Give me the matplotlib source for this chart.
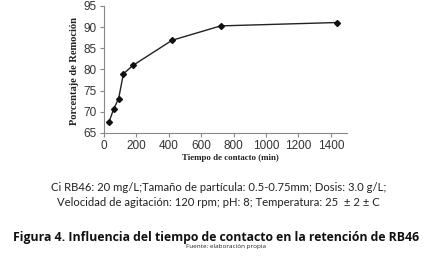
import matplotlib
matplotlib.use("Agg")
import matplotlib.pyplot as plt

tiempo = [30, 60, 90, 120, 180, 420, 720, 1440]
remocion = [67.5, 70.7, 73.1, 79.0, 81.0, 86.9, 90.3, 91.1]
xticks = [0, 200, 400, 600, 800, 1000, 1200, 1400]
yticks = [65, 70, 75, 80, 85, 90, 95]

W, H = 427, 258
fig = plt.figure(figsize=(W / 100, H / 100), dpi=100)
ax = fig.add_axes([104 / W, 1 - 133 / H, (347 - 104) / W, (133 - 6) / H])

ax.plot(tiempo, remocion, color="#222222", lw=1.0, marker="D", ms=3,
        mfc="#111111", mec="#111111")
ax.set_xlim(0, 1500)
ax.set_ylim(65, 95)
ax.set_xticks(xticks)
ax.set_yticks(yticks)
for s in ["top", "right"]:
    ax.spines[s].set_visible(False)
for s in ["left", "bottom"]:
    ax.spines[s].set_color("#888888")
    ax.spines[s].set_linewidth(0.8)
ax.tick_params(axis="both", direction="out", length=3, width=0.8,
               color="#888888", labelsize=8.5, labelcolor="#333333", pad=2)
for lab in ax.get_xticklabels() + ax.get_yticklabels():
    lab.set_fontfamily("Liberation Sans")

fig.text(75 / W, 1 - 71 / H, "Porcentaje de Remoción", rotation=90,
         ha="center", va="center", fontsize=7.6, fontweight="bold",
         family="Liberation Serif", color="#222222")
fig.text(230 / W, 1 - 158.5 / H, "Tiempo de contacto (min)",
         ha="center", va="center", fontsize=6.4, fontweight="bold",
         family="Liberation Serif", color="#222222")

fig.text(219 / W, 1 - 187.5 / H,
         "Ci RB46: 20 mg/L;Tamaño de partícula: 0.5-0.75mm; Dosis: 3.0 g/L;",
         ha="center", va="center", fontsize=8.1, family="Lato", color="#222222")
fig.text(218 / W, 1 - 202 / H,
         "Velocidad de agitación: 120 rpm; pH: 8; Temperatura: 25  ± 2 ± C",
         ha="center", va="center", fontsize=8.1, family="Lato", color="#222222")
fig.text(216 / W, 1 - 237 / H,
         "Figura 4. Influencia del tiempo de contacto en la retención de RB46",
         ha="center", va="center", fontsize=8.8, fontweight="bold",
         family="Open Sans", color="#111111")
fig.text(226 / W, 1 - 246.5 / H, "Fuente: elaboración propia",
         ha="center", va="center", fontsize=4.6, family="Open Sans",
         color="#222222")

fig.savefig("out.png", dpi=100)
